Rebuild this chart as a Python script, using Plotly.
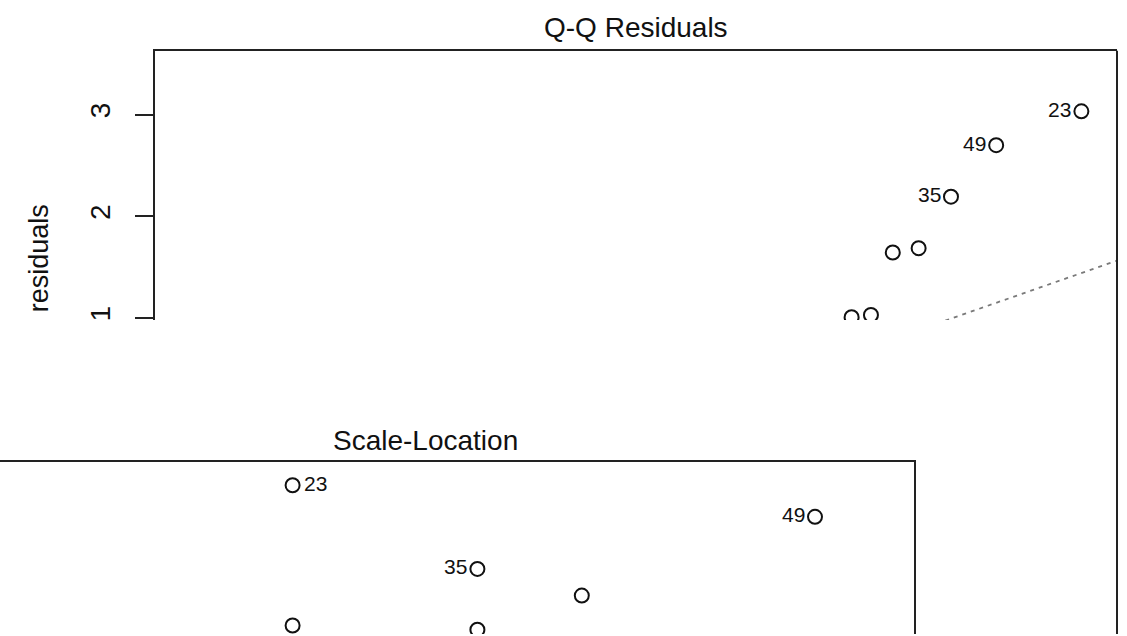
import plotly.graph_objects as go

W, H = 1127, 636
FONT = "Liberation Sans, Arial, Helvetica, sans-serif"

# ---- Q-Q Residuals (visible upper part) ----
qq_theoretical = [1.126, 1.227, 1.341, 1.476, 1.645, 1.881, 2.326]
qq_residuals = [1.007, 1.029, 1.644, 1.686, 2.193, 2.699, 3.032]
qq_ids = ["", "", "", "", "35", "49", "23"]
qqline_x = [-2.6, 2.6]
qqline_y = [-1.800, 1.622]
qq_yticks = [1, 2, 3]

# ---- Scale-Location (visible upper part) ----
sl_fitted = [14.63, 14.63, 23.87, 23.87, 29.09, 40.75]
sl_sqrt_resid = [1.741, 1.305, 1.481, 1.292, 1.398, 1.643]
sl_ids = ["23", "", "35", "", "", "49"]
sl_label_side = ["right", "", "left", "", "", "left"]


def px_x(p):
    return p / W


def px_y(p):
    return (H - p) / H


marker = dict(symbol="circle-open", size=14, color="#111111", line=dict(width=2, color="#111111"))

fig = go.Figure()

fig.add_trace(go.Scatter(
    x=qqline_x, y=qqline_y, mode="lines",
    line=dict(color="#7a7a7a", width=1.8, dash="4px,5px"),
    xaxis="x", yaxis="y", hoverinfo="skip", showlegend=False))
fig.add_trace(go.Scatter(
    x=qq_theoretical, y=qq_residuals, mode="markers", marker=marker,
    xaxis="x", yaxis="y", showlegend=False, cliponaxis=True))
fig.add_trace(go.Scatter(
    x=sl_fitted, y=sl_sqrt_resid, mode="markers", marker=marker,
    xaxis="x2", yaxis="y2", showlegend=False, cliponaxis=True))

annotations = []
for xv, yv, lab in zip(qq_theoretical, qq_residuals, qq_ids):
    if lab:
        annotations.append(dict(x=xv, y=yv, xref="x", yref="y", text=lab, showarrow=False,
                                xanchor="right", yanchor="middle", xshift=-8, yshift=2,
                                font=dict(family=FONT, size=21, color="#111111")))
for xv, yv, lab, side in zip(sl_fitted, sl_sqrt_resid, sl_ids, sl_label_side):
    if lab:
        annotations.append(dict(x=xv, y=yv, xref="x2", yref="y2", text=lab, showarrow=False,
                                xanchor="left" if side == "right" else "right", yanchor="middle",
                                xshift=9 if side == "right" else -8, yshift=2,
                                font=dict(family=FONT, size=21, color="#111111")))

annotations += [
    dict(x=px_x(636), y=px_y(45), xref="paper", yref="paper", text="Q-Q Residuals",
         showarrow=False, xanchor="center", yanchor="bottom",
         font=dict(family=FONT, size=28, color="#111111")),
    dict(x=px_x(425.5), y=px_y(459), xref="paper", yref="paper", text="Scale-Location",
         showarrow=False, xanchor="center", yanchor="bottom",
         font=dict(family=FONT, size=28, color="#111111")),
    dict(x=px_x(39), y=px_y(259), xref="paper", yref="paper", text="residuals",
         showarrow=False, xanchor="center", yanchor="middle", textangle=-90,
         font=dict(family=FONT, size=27, color="#111111")),
]

shapes = [
    dict(type="line", xref="paper", yref="paper",
         x0=px_x(1117), x1=px_x(1117), y0=0, y1=px_y(51),
         line=dict(color="#222222", width=2)),
]

fig.update_layout(
    width=W, height=H, autosize=False,
    margin=dict(l=0, r=0, t=0, b=0, pad=0),
    paper_bgcolor="white", plot_bgcolor="white",
    showlegend=False,
    xaxis=dict(domain=[px_x(155), px_x(1117)], range=[-2.512, 2.512], anchor="y",
               side="top", showline=True, linecolor="#222222", linewidth=2,
               showgrid=False, zeroline=False, showticklabels=False, ticks=""),
    yaxis=dict(domain=[px_y(321), px_y(51)], range=[0.98, 3.627], anchor="x",
               showline=True, linecolor="#222222", linewidth=2,
               showgrid=False, zeroline=False, tickmode="array", tickvals=qq_yticks,
               ticktext=[str(t) for t in qq_yticks], ticks="outside", ticklen=18,
               tickwidth=2, tickcolor="#222222", tickangle=-90, ticklabelstandoff=14,
               tickfont=dict(family=FONT, size=28, color="#111111")),
    xaxis2=dict(domain=[0, px_x(914)], range=[0, 45.7], anchor="y2",
                side="top", showline=True, linecolor="#222222", linewidth=2,
                showgrid=False, zeroline=False, showticklabels=False, ticks=""),
    yaxis2=dict(domain=[0, px_y(463)], range=[1.2785, 1.8148], anchor="x2",
                side="right", showline=True, linecolor="#222222", linewidth=2,
                showgrid=False, zeroline=False, showticklabels=False, ticks=""),
    annotations=annotations,
    shapes=shapes,
)

fig.write_html("out.html")
